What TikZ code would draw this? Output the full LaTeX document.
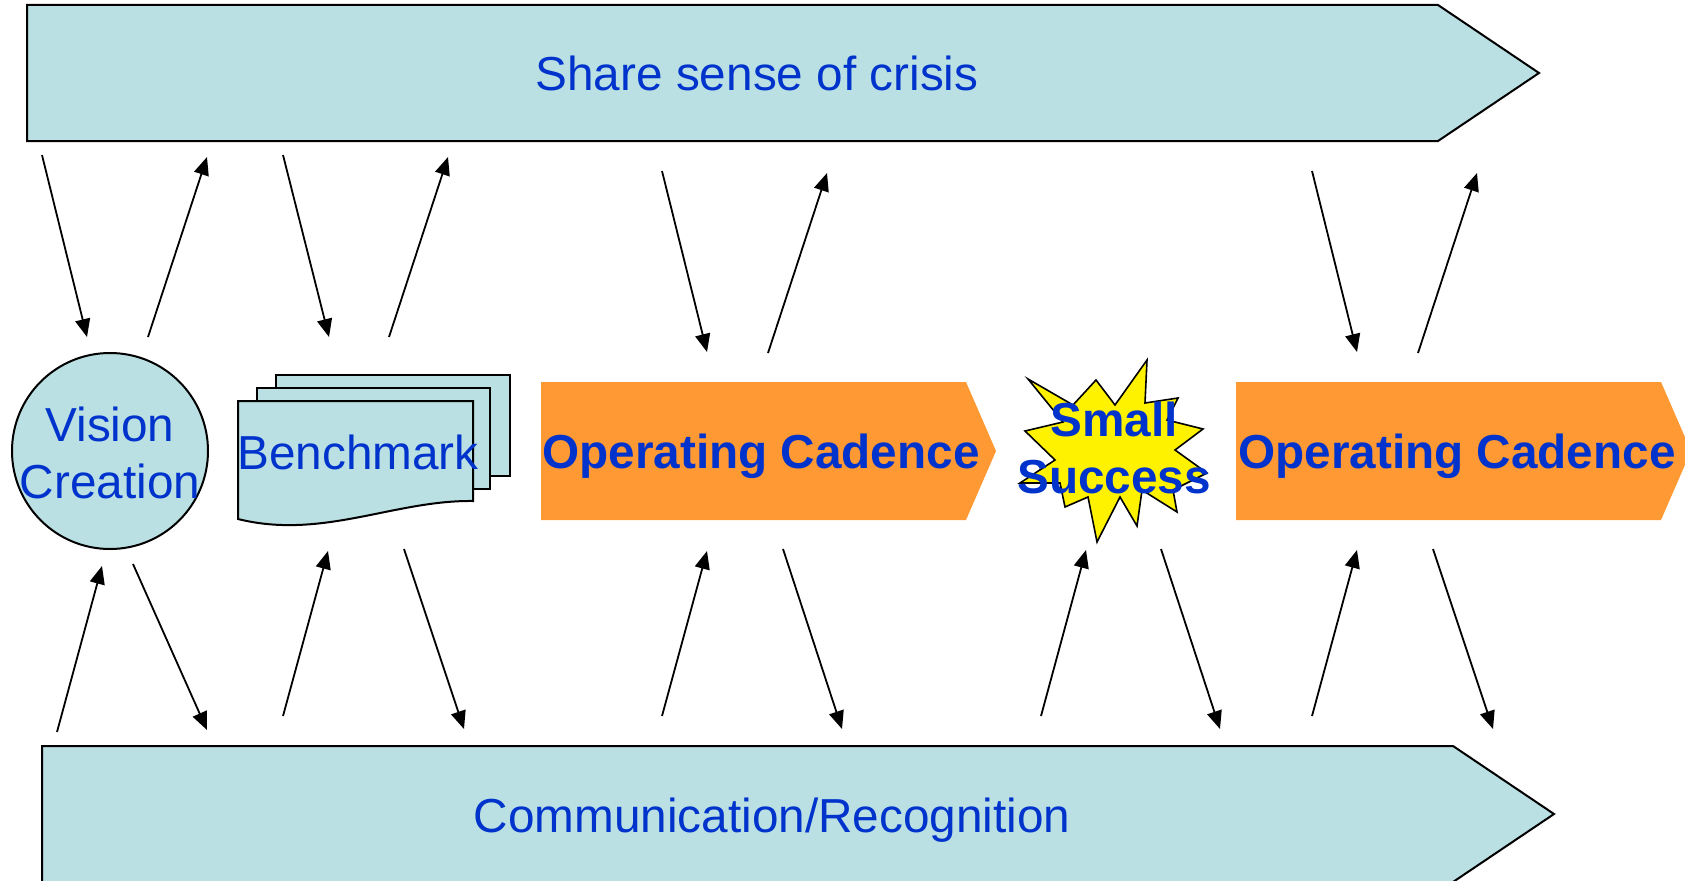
\documentclass[tikz,border=0pt]{standalone}
\usepackage{fontspec}
\setmainfont{Liberation Sans}
\usetikzlibrary{arrows.meta}

\definecolor{paleteal}{RGB}{186,224,227}
\definecolor{cadence}{RGB}{255,153,51}
\definecolor{labelblue}{RGB}{0,51,204}

\tikzset{
  band/.style={draw=black, line width=2pt, fill=paleteal},
  chev/.style={fill=cadence},
  lbl/.style={text=labelblue, font=\fontsize{47.7}{57}\selectfont, align=center, inner sep=0pt},
  boldlbl/.style={lbl, font=\fontsize{47.7}{57}\selectfont\bfseries},
  flow/.style={-{Triangle[length=18pt,width=15pt]}, line width=1.8pt},
}

\begin{document}
\begin{tikzpicture}[x=1pt, y=-1pt]
  \clip (0,0) rectangle (1685,880);
  % top and bottom bands
  \draw[band] (27,5) -- (1438,5) -- (1539,73) -- (1438,141) -- (27,141) -- cycle;
  \node[lbl] (crisis) at (757,73) {Share sense of crisis};
  \draw[band] (42,746) -- (1453,746) -- (1554,814) -- (1453,882) -- (42,882) -- cycle;
  \node[lbl] (recog) at (772,820) {Communication/Recognition};

  % vision circle
  \draw[band] (110,451) circle[radius=98pt];
  \node[lbl] (vision) at (110,453) {Vision\\Creation};

  % stacked benchmark sheets
  \draw[band] (276,375) rectangle (510,476);
  \draw[band] (257,388) rectangle (490,489);
  \draw[band] (238,401) -- (473,401) -- (473,501)
    .. controls (394,500) and (322,540) .. (238,519) -- cycle;
  \node[lbl] (bench) at (358,452) {Benchmark};

  % operating cadence chevrons
  \fill[chev] (541,382) -- (966,382) -- (996,451) -- (966,520) -- (541,520) -- cycle;
  \node[boldlbl] (cad1) at (761,456) {Operating Cadence};
  \fill[chev] (1236,382) -- (1661,382) -- (1691,451) -- (1661,520) -- (1236,520) -- cycle;
  \node[boldlbl] (cad2) at (1457,456) {Operating Cadence};

  % small success burst
  \draw[line width=1.6pt, fill=yellow] (1028,379) -- (1073,405) -- (1096,380) -- (1115,405)
    -- (1147,360) -- (1145,403) -- (1178,398) -- (1167,420) -- (1203,429) -- (1175,450)
    -- (1207,473) -- (1173,490) -- (1177,512) -- (1142,490) -- (1137,526) -- (1120,497)
    -- (1097,542) -- (1088,497) -- (1065,507) -- (1060,483) -- (1020,483) -- (1055,460)
    -- (1025,431) -- (1063,422) -- cycle;
  \node[boldlbl] (success) at (1114,448) {Small\\Success};

  % arrows to and from the bands
  \foreach \a/\b/\c/\d [count=\i] in {
      42/155/87/337, 148/337/207/157, 283/155/329/337, 389/337/448/157,
      662/171/707/352, 768/353/827/173, 1312/171/1357/352, 1418/353/1477/173,
      57/732/102/566, 133/564/207/730, 283/716/328/551, 404/549/464/729,
      662/716/707/551, 783/549/842/729, 1041/716/1086/550, 1161/549/1220/729,
      1312/716/1357/550, 1433/549/1493/729} {
    \coordinate (from\i) at (\a,\b);
    \coordinate (to\i) at (\c,\d);
    \draw[flow] (from\i) -- (to\i);
  }
\end{tikzpicture}
\end{document}
